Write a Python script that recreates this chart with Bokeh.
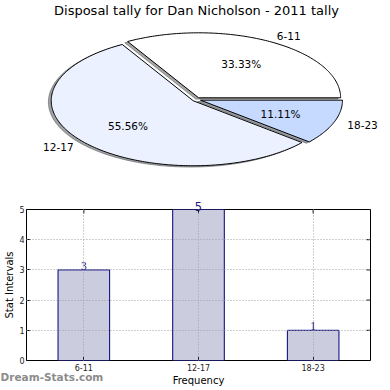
import math
from bokeh.plotting import figure
from bokeh.layouts import column
from bokeh.models import (ColumnDataSource, Label, LabelSet, Range1d,
                          FixedTicker, Title, LinearAxis)
from bokeh.embed import file_html
from bokeh.resources import INLINE

# ---------------- data ----------------
title_text = "Disposal tally for Dan Nicholson - 2011 tally"
categories = ["6-11", "12-17", "18-23"]
counts = [3, 5, 1]
pie_colors = ["#ffffff", "#ebf1ff", "#c6d9ff"]
y_ticks = [0, 1, 2, 3, 4, 5]
x_label = "Frequency"
y_label = "Stat Intervals"
watermark = "Dream-Stats.com"

FONT = "DejaVu Sans"

# shared horizontal layout (the column aligns the frames' left edges)
LEFT = 26
TOTAL_W = 382

# ---------------- pie ----------------
PW = TOTAL_W - LEFT
H1 = 190
RX, RY = 142.0, 65.0          # pixels per unit radius (elliptical pie)
cx_px, cy_px = 196 - LEFT, 99  # pie centre inside the frame
pie = figure(frame_width=PW, frame_height=H1, output_backend="svg",
             toolbar_location=None,
             x_range=Range1d(-cx_px / RX, (PW - cx_px) / RX),
             y_range=Range1d(-(H1 - cy_px) / RY, cy_px / RY),
             x_axis_type=None, y_axis_type=None, min_border=0,
             min_border_left=LEFT, outline_line_color=None)

total = float(sum(counts))
explode = 0.03
shadow_off = -0.02


def shade(hexcol, f=0.3):
    r, g, b = (int(hexcol[i:i + 2], 16) for i in (1, 3, 5))
    return "#%02x%02x%02x" % (int(r * f), int(g * f), int(b * f))


wedges = []
theta = 0.0
for cat, cnt, col in zip(categories, counts, pie_colors):
    frac = cnt / total
    t1 = theta + 360.0 * frac
    tm = math.radians((theta + t1) / 2.0)
    ox, oy = explode * math.cos(tm), explode * math.sin(tm)
    n = max(10, int(abs(t1 - theta)))
    angs = [math.radians(theta + (t1 - theta) * i / n) for i in range(n + 1)]
    xs = [ox] + [ox + math.cos(a) for a in angs] + [ox]
    ys = [oy] + [oy + math.sin(a) for a in angs] + [oy]
    wedges.append((cat, frac, col, tm, ox, oy, xs, ys))
    theta = t1

for cat, frac, col, tm, ox, oy, xs, ys in wedges:
    pie.patch([x + shadow_off for x in xs], [y + shadow_off for y in ys],
              fill_color=shade(col), fill_alpha=0.5,
              line_color=shade(col), line_alpha=0.5, line_width=1)

for cat, frac, col, tm, ox, oy, xs, ys in wedges:
    pie.patch(xs, ys, fill_color=col, line_color="black", line_width=1)
    lx = ox + 1.1 * math.cos(tm)
    ly = oy + 1.1 * math.sin(tm)
    pie.add_layout(Label(x=lx, y=ly, text=cat,
                         text_align="left" if lx > 0 else "right",
                         text_baseline="middle", text_font=FONT,
                         text_font_size="10.5px", text_color="black"))
    px = ox + 0.6 * math.cos(tm)
    py = oy + 0.6 * math.sin(tm)
    pie.add_layout(Label(x=px, y=py, text="%.2f%%" % (frac * 100),
                         text_align="center", text_baseline="middle",
                         text_font=FONT, text_font_size="10.5px",
                         text_color="black"))

pie.add_layout(Label(x=0, y=(cy_px - 10) / RY, text=title_text,
                     text_align="center", text_baseline="middle",
                     text_font=FONT, text_font_size="13px",
                     text_color="black"))

# ---------------- bar chart ----------------
VAL_COLOR = "#1a1a80"
RIGHT = 12
bar = figure(frame_width=TOTAL_W - LEFT - RIGHT, frame_height=151,
             output_backend="svg", toolbar_location=None,
             x_range=Range1d(0, len(categories)),
             y_range=Range1d(min(y_ticks), max(y_ticks)),
             min_border_left=LEFT, min_border_right=RIGHT,
             min_border_top=19, min_border_bottom=10)
bar.outline_line_color = "black"
bar.outline_line_width = 1

xs = [i + 0.5 for i in range(len(categories))]
inside = [c < max(y_ticks) for c in counts]
src = ColumnDataSource(dict(
    x=[x for x, k in zip(xs, inside) if k],
    top=[c for c, k in zip(counts, inside) if k],
    lab=[str(c) for c, k in zip(counts, inside) if k]))
bars = ColumnDataSource(dict(x=xs, top=counts))
bar.vbar(x="x", top="top", bottom=0, width=0.45, source=bars,
         fill_color="#ccccdf", line_color="#00007a", line_width=1)

bar.xaxis.ticker = FixedTicker(ticks=xs)
bar.xaxis.major_label_overrides = {x: c for x, c in zip(xs, categories)}
bar.yaxis.ticker = FixedTicker(ticks=y_ticks)
for ax in (bar.xaxis[0], bar.yaxis[0]):
    ax.axis_line_color = None
    ax.major_tick_in = 4
    ax.major_tick_out = 0
    ax.major_tick_line_color = "black"
    ax.minor_tick_line_color = None
    ax.major_label_text_font = FONT
    ax.major_label_text_font_size = "8px"
    ax.major_label_text_color = "#222222"
    ax.axis_label_text_font = FONT
    ax.axis_label_text_font_style = "normal"
    ax.axis_label_text_font_size = "10px"
    ax.axis_label_text_color = "black"
bar.xaxis.major_label_standoff = 3
bar.xaxis.axis_label_standoff = 1
bar.yaxis.major_label_standoff = 2
bar.yaxis.axis_label_standoff = 1
bar.xaxis.axis_label = x_label
bar.yaxis.axis_label = y_label

# watermark drawn as the single label of an extra, line-less bottom axis
wm_axis = LinearAxis(ticker=FixedTicker(ticks=[0.22]),
                     major_label_overrides={0.22: watermark},
                     axis_line_color=None, major_tick_line_color=None,
                     minor_tick_line_color=None, major_label_standoff=-24,
                     major_label_text_font=FONT,
                     major_label_text_font_style="bold",
                     major_label_text_font_size="10.5px",
                     major_label_text_color="#8c8c8c")
bar.add_layout(wm_axis, "below")

# inward ticks on the right and top edges
bar.ray(x=[len(categories)] * len(y_ticks), y=y_ticks, length=4,
        length_units="screen", angle=math.pi, line_color="black")
bar.ray(x=xs, y=[max(y_ticks)] * len(xs), length=4, length_units="screen",
        angle=-math.pi / 2, line_color="black")

bar.xgrid.ticker = FixedTicker(ticks=xs)
bar.ygrid.ticker = FixedTicker(ticks=y_ticks)
bar.grid.grid_line_color = "#a0a0a0"
bar.grid.grid_line_dash = "1 2"
bar.grid.grid_line_width = 1
bar.grid.level = "guide"

bar.add_layout(LabelSet(x="x", y="top", text="lab", source=src,
                        text_align="center", text_baseline="bottom",
                        text_font=FONT, text_font_size="11.5px",
                        text_color=VAL_COLOR))
# value labels that reach the top edge sit just above the frame
for x, c, k in zip(xs, counts, inside):
    if not k:
        bar.add_layout(Title(text=str(c), align="center", standoff=-3,
                             text_font=FONT, text_font_size="11.5px",
                             text_font_style="normal",
                             text_color=VAL_COLOR), "above")

layout = column(pie, bar, spacing=0)
open("out.html", "w").write(file_html(layout, INLINE))
